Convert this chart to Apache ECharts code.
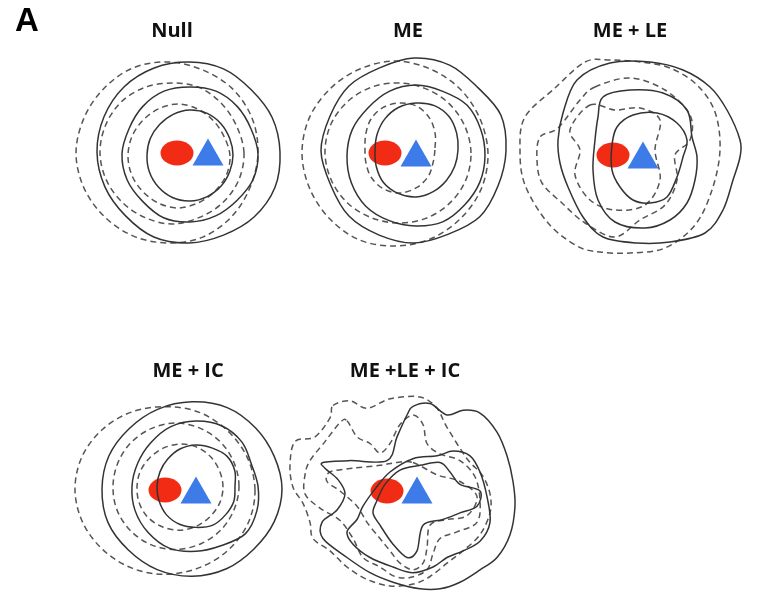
<!DOCTYPE html>
<html><head><meta charset="utf-8">
<script src="https://cdn.jsdelivr.net/npm/echarts@6/dist/echarts.min.js"></script>
<style>html,body{margin:0;padding:0;background:#fff}#c{width:761px;height:605px}</style>
</head><body><div id="c"></div>
<script>
// ---- panel titles ----
const panelTitles = ['Null', 'ME', 'ME + LE', 'ME + IC', 'ME +LE + IC'];
const figureLabel = 'A';

// ---- radial rings (radii every 22.5°, counter-clockwise from east), panel units ----
const nullSolidCenters = [[-1, 1], [0, -1], [0, -2]];
const nullSolidRadii = [
  [91, 90, 88, 90, 90, 91, 92, 92, 92, 91, 90, 92, 91, 90, 92, 93],
  [68, 66, 67, 68, 67, 68, 67, 66, 68, 68, 67, 69, 68, 67, 66, 68],
  [43, 43, 44, 45, 45, 44, 43, 43, 43, 44, 45, 46, 46, 45, 44, 43]
];
const nullDashCenters = [[-22, 0], [-18, 0], [-12, -3]];
const nullDashRadii = [
  [90, 91, 91, 90, 91, 92, 91, 91, 92, 91, 90, 90, 90, 91, 90, 89],
  [72, 70, 70, 71, 70, 71, 72, 72, 72, 71, 70, 70, 71, 70, 71, 72],
  [52, 50, 50, 51, 52, 51, 50, 50, 50, 50, 50, 51, 52, 51, 51, 52]
];

const meSolidCenters = [[14, 2], [16, -3], [16, 3]];
const meSolidRadii = [
  [92, 94, 90, 93, 93, 90, 92, 91, 93, 90, 92, 91, 92, 90, 93, 91],
  [69, 70, 72, 70, 71, 70, 68, 69, 69, 70, 71, 70, 70, 71, 69, 69],
  [42, 44, 47, 48, 47, 46, 44, 42, 41, 43, 46, 47, 47, 45, 43, 42]
];
const meDashCenters = [[-5, -1], [-2, 0], [0, 5]];
const meDashRadii = [
  [93, 92, 92, 92, 93, 92, 92, 93, 93, 92, 92, 93, 92, 92, 92, 93],
  [73, 72, 71, 70, 70, 71, 72, 73, 73, 72, 71, 70, 70, 71, 72, 73],
  [35, 38, 42, 45, 45, 44, 41, 37, 35, 37, 41, 44, 45, 43, 40, 36]
];

const icSolidCenters = [[12, 1], [16, 4], [16, 4]];
const icSolidRadii = [
  [90, 89, 90, 92, 91, 90, 89, 90, 90, 91, 90, 91, 91, 90, 88, 89],
  [62, 60, 65, 68, 68, 67, 64, 63, 64, 66, 68, 70, 68, 67, 70, 66],
  [39, 42, 44, 43, 43, 42, 40, 39, 39, 40, 42, 43, 43, 44, 42, 41]
];
const icDashCenters = [[-15, 0], [-4, 4], [0, 3]];
const icDashRadii = [
  [90, 89, 88, 88, 87, 88, 89, 90, 90, 89, 88, 88, 88, 88, 89, 90],
  [63, 63, 64, 65, 66, 65, 64, 63, 63, 64, 65, 66, 66, 65, 64, 63],
  [43, 43, 44, 45, 45, 44, 43, 43, 43, 44, 45, 45, 45, 44, 43, 43]
];

// ---- traced irregular rings (x, y) in panel units ----
const leSolidRings = [
  [[-51,75],[-18,92],[22,93],[55,85],[82,68],[99,45],[112,15],[112,-2],[105,-25],[95,-55],[77,-78],[42,-87],[9,-88],[-25,-82],[-45,-62],[-60,-32],[-68,-8],[-70,15],[-65,42]],
  [[-25,58],[2,65],[35,62],[59,45],[64,18],[69,-2],[67,-25],[59,-48],[42,-65],[17,-73],[-13,-67],[-30,-45],[-35,-15],[-33,15],[-30,38]],
  [[-11,28],[5,40],[29,42],[49,32],[59,15],[55,-2],[49,-22],[39,-42],[22,-48],[5,-45],[-8,-32],[-16,-15],[-16,10]]
];
const leDashRings = [
  [[-43,93],[-18,95],[12,93],[42,87],[69,70],[87,43],[92,5],[84,-35],[67,-70],[37,-93],[2,-98],[-28,-97],[-51,-91],[-80,-68],[-103,-30],[-108,5],[-103,38],[-73,67]],
  [[-33,68],[2,77],[37,65],[62,40],[62,15],[47,0],[49,-25],[37,-50],[12,-65],[-13,-82],[-43,-68],[-66,-48],[-86,-28],[-91,-5],[-88,18],[-70,27],[-48,55]],
  [[-38,50],[-13,45],[12,47],[32,35],[27,5],[32,-25],[17,-50],[-13,-55],[-38,-45],[-53,-20],[-48,5],[-58,25]]
];

const allSolidRings = [
  [[11,89],[28,92],[45,80],[61,85],[78,82],[95,62],[105,37],[111,10],[113,-16],[108,-46],[95,-70],[78,-83],[58,-96],[38,-103],[18,-103],[-9,-96],[-32,-86],[-55,-70],[-79,-50],[-80,-33],[-65,-20],[-57,-3],[-64,12],[-77,24],[-79,30],[-52,32],[-15,32],[-5,57],[5,80]],
  [[11,34],[35,37],[51,42],[68,37],[78,20],[85,-6],[88,-33],[78,-53],[61,-63],[45,-70],[31,-80],[11,-86],[-9,-80],[-32,-70],[-49,-56],[-55,-43],[-45,-30],[-39,-16],[-27,2],[-12,20]],
  [[18,27],[38,30],[48,20],[58,7],[78,0],[75,-16],[58,-23],[41,-30],[21,-36],[15,-63],[5,-70],[-9,-56],[-22,-36],[-29,-23],[-25,-10],[-17,7],[-2,22]]
];
const allDashRings = [
  [[-69,90],[-52,95],[-35,87],[-12,97],[18,99],[35,87],[45,67],[65,34],[80,17],[88,-3],[88,-23],[78,-46],[61,-63],[45,-76],[28,-90],[11,-98],[-12,-100],[-35,-93],[-55,-80],[-72,-63],[-89,-50],[-92,-33],[-99,-13],[-109,4],[-112,27],[-107,52],[-87,57],[-72,77]],
  [[-55,74],[-45,57],[-32,50],[-22,40],[-12,50],[-2,70],[11,80],[21,70],[25,50],[38,39],[58,32],[73,15],[78,-10],[75,-33],[55,-43],[38,-50],[31,-66],[25,-83],[8,-91],[-7,-90],[-22,-80],[-39,-70],[-49,-50],[-62,-31],[-82,-18],[-97,-3],[-97,17],[-92,32],[-77,52],[-62,72]],
  [[11,30],[35,17],[58,10],[75,-6],[65,-26],[45,-30],[28,-36],[25,-60],[21,-76],[11,-83],[-2,-76],[-12,-63],[-22,-50],[-35,-33],[-45,-16],[-62,0],[-75,10],[-72,20],[-49,24],[-22,27],[-5,30]]
];

// ---- object markers (ellipse = red, triangle = blue) ----
const redPositions = [[-13, 0], [-15, 0], [-15, 0], [-15, 0], [-15, 0]];
const bluePositions = [[18, 1], [16, 0], [15, 0], [16, 0], [15, 1]];

// ---------- layout ----------
const panelOrigins = [[190, 153], [400, 153], [628, 155], [180, 495], [402, 497]];
const titlePos = [[172, 31], [408, 31], [630, 31], [188, 371], [405, 371]];
const half = 120;

function radialRing(center, radii) {
  const n = radii.length, pts = [];
  for (let k = 0; k < n; k++) {
    const a = k * 2 * Math.PI / n;
    pts.push([center[0] + radii[k] * Math.cos(a), center[1] + radii[k] * Math.sin(a)]);
  }
  return pts;
}

// closed Catmull-Rom curve through pixel points (rendering only)
function closedSplinePath(px) {
  const n = px.length;
  let d = 'M' + px[0][0] + ' ' + px[0][1];
  for (let i = 0; i < n; i++) {
    const p0 = px[(i - 1 + n) % n], p1 = px[i], p2 = px[(i + 1) % n], p3 = px[(i + 2) % n];
    const c1 = [p1[0] + (p2[0] - p0[0]) / 6, p1[1] + (p2[1] - p0[1]) / 6];
    const c2 = [p2[0] - (p3[0] - p1[0]) / 6, p2[1] - (p3[1] - p1[1]) / 6];
    d += ' C' + c1[0] + ' ' + c1[1] + ' ' + c2[0] + ' ' + c2[1] + ' ' + p2[0] + ' ' + p2[1];
  }
  return d + ' Z';
}

const panelSolid = [
  nullSolidRadii.map((r, i) => radialRing(nullSolidCenters[i], r)),
  meSolidRadii.map((r, i) => radialRing(meSolidCenters[i], r)),
  leSolidRings,
  icSolidRadii.map((r, i) => radialRing(icSolidCenters[i], r)),
  allSolidRings
];
const panelDash = [
  nullDashRadii.map((r, i) => radialRing(nullDashCenters[i], r)),
  meDashRadii.map((r, i) => radialRing(meDashCenters[i], r)),
  leDashRings,
  icDashRadii.map((r, i) => radialRing(icDashCenters[i], r)),
  allDashRings
];

function ringSeries(p, pts, dashed) {
  return {
    type: 'custom', xAxisIndex: p, yAxisIndex: p, z: dashed ? 2 : 3, silent: true, clip: false,
    data: pts,
    renderItem: function (params, api) {
      if (params.dataIndex !== 0) return { type: 'group', children: [] };
      const px = pts.map(q => api.coord(q));
      return {
        type: 'path',
        shape: { pathData: closedSplinePath(px) },
        style: dashed
          ? { fill: 'none', stroke: '#555555', lineWidth: 1.5, lineDash: [6, 4] }
          : { fill: 'none', stroke: '#333333', lineWidth: 1.5 }
      };
    }
  };
}

const grids = [], xAxes = [], yAxes = [], series = [];
panelOrigins.forEach((o, p) => {
  grids.push({ left: o[0] - half, top: o[1] - half, width: 2 * half, height: 2 * half });
  xAxes.push({ gridIndex: p, type: 'value', min: -half, max: half, show: false });
  yAxes.push({ gridIndex: p, type: 'value', min: -half, max: half, show: false });
  series.push({
    type: 'scatter', xAxisIndex: p, yAxisIndex: p, z: 1, silent: true,
    symbol: 'circle', symbolSize: [33, 25],
    itemStyle: { color: '#f22c14', opacity: 1 }, data: [redPositions[p]]
  });
  series.push({
    type: 'scatter', xAxisIndex: p, yAxisIndex: p, z: 1, silent: true,
    symbol: 'triangle', symbolSize: [31, 27],
    itemStyle: { color: '#3c7be8', opacity: 1 }, data: [bluePositions[p]]
  });
  panelDash[p].forEach(pts => series.push(ringSeries(p, pts, true)));
  panelSolid[p].forEach(pts => series.push(ringSeries(p, pts, false)));
});

const graphics = panelTitles.map((t, i) => ({
  type: 'text', x: titlePos[i][0], y: titlePos[i][1],
  style: { text: t, font: 'bold 20px "Open Sans", sans-serif', fill: '#111', textAlign: 'center', textVerticalAlign: 'middle' }
}));
graphics.push({
  type: 'text', x: 27, y: 22,
  style: { text: figureLabel, font: 'bold 33px "Liberation Sans", Arial, sans-serif', fill: '#000', textAlign: 'center', textVerticalAlign: 'middle' }
});

const chart = echarts.init(document.getElementById('c'), null, { renderer: 'canvas' });
chart.setOption({
  animation: false,
  backgroundColor: '#ffffff',
  grid: grids, xAxis: xAxes, yAxis: yAxes,
  series: series,
  graphic: graphics
});
</script></body></html>
